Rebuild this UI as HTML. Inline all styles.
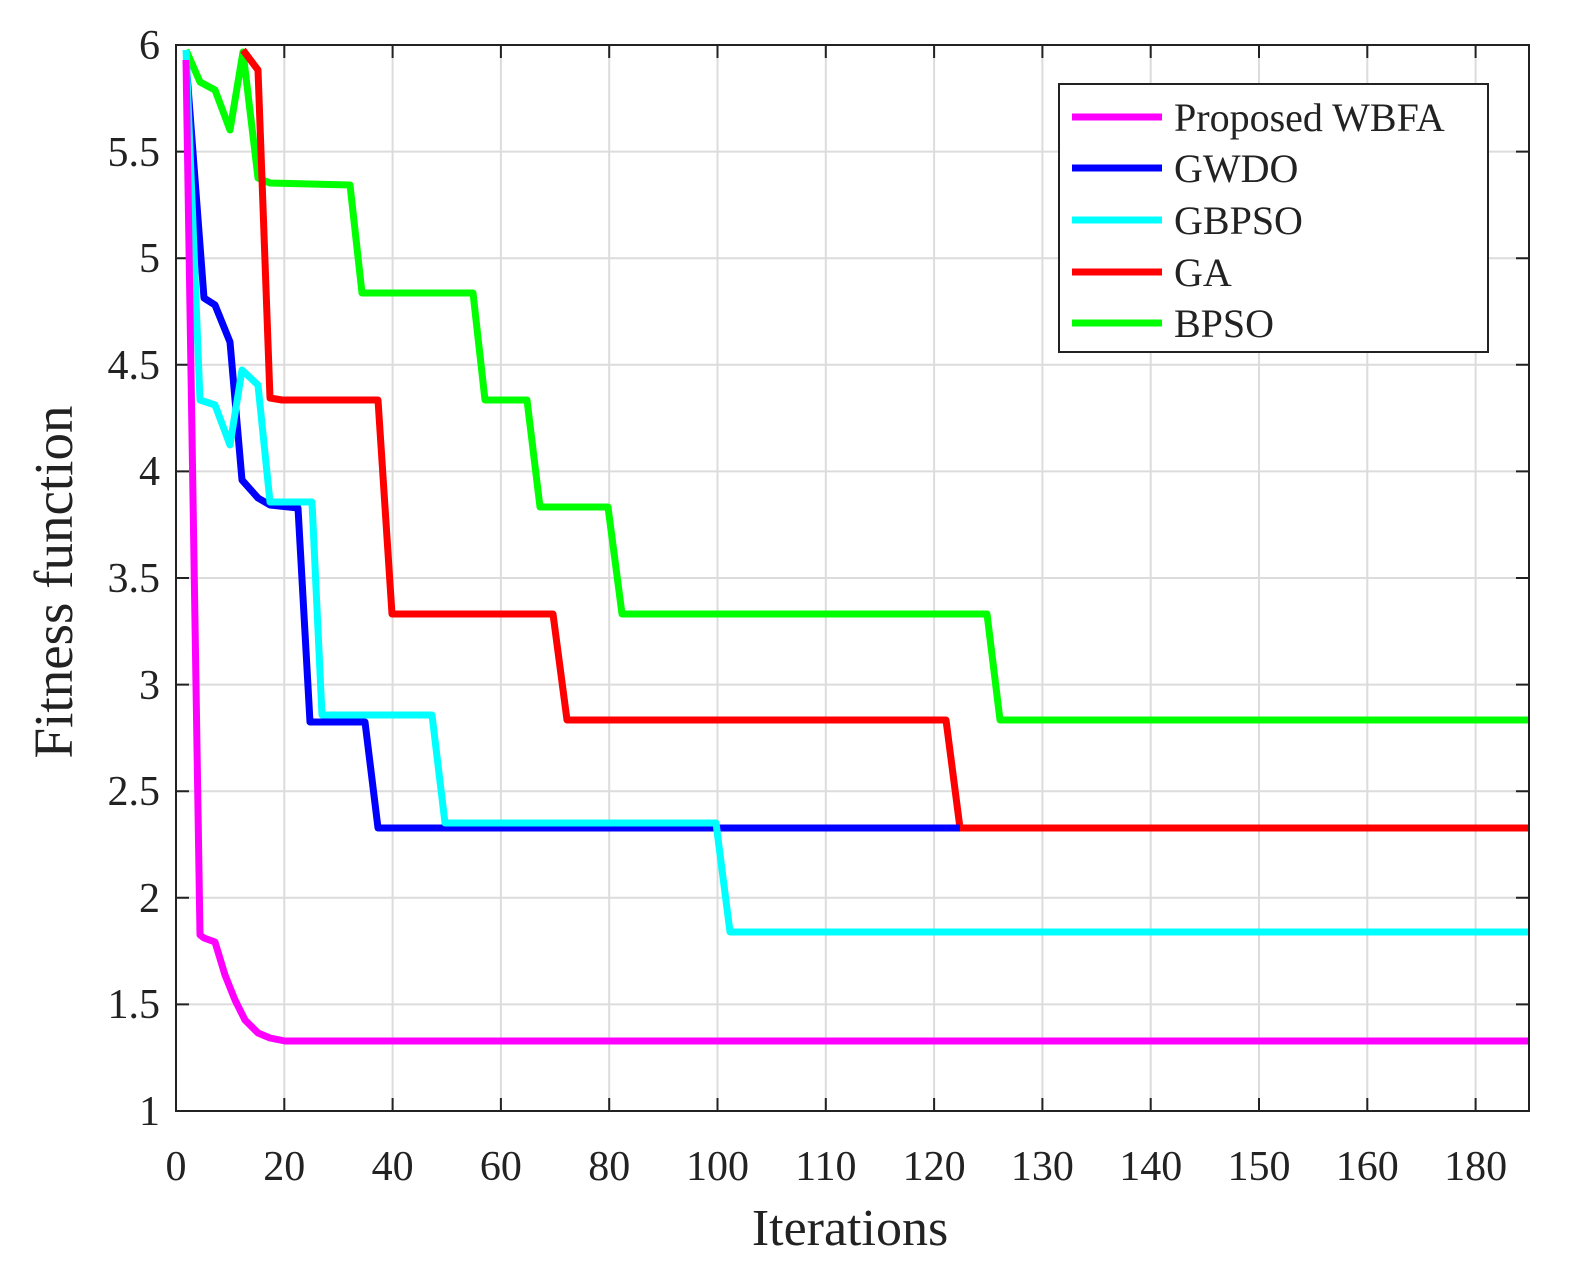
<!DOCTYPE html>
<html><head><style>body{margin:0;background:#fff}svg text{font-family:"Liberation Serif",serif;fill:#222}</style></head><body>
<svg width="1571" height="1277" viewBox="0 0 1571 1277" xmlns="http://www.w3.org/2000/svg">
<rect width="1571" height="1277" fill="#fff"/>
<g stroke="#dcdcdc" stroke-width="2">
<line x1="284.3" x2="284.3" y1="45" y2="1111"/><line x1="392.6" x2="392.6" y1="45" y2="1111"/><line x1="500.9" x2="500.9" y1="45" y2="1111"/><line x1="609.2" x2="609.2" y1="45" y2="1111"/><line x1="717.5" x2="717.5" y1="45" y2="1111"/><line x1="825.8" x2="825.8" y1="45" y2="1111"/><line x1="934.1" x2="934.1" y1="45" y2="1111"/><line x1="1042.4" x2="1042.4" y1="45" y2="1111"/><line x1="1150.7" x2="1150.7" y1="45" y2="1111"/><line x1="1259" x2="1259" y1="45" y2="1111"/><line x1="1367.3" x2="1367.3" y1="45" y2="1111"/><line x1="1475.6" x2="1475.6" y1="45" y2="1111"/>
<line x1="176" x2="1529" y1="151.6" y2="151.6"/><line x1="176" x2="1529" y1="258.2" y2="258.2"/><line x1="176" x2="1529" y1="364.8" y2="364.8"/><line x1="176" x2="1529" y1="471.4" y2="471.4"/><line x1="176" x2="1529" y1="578" y2="578"/><line x1="176" x2="1529" y1="684.6" y2="684.6"/><line x1="176" x2="1529" y1="791.2" y2="791.2"/><line x1="176" x2="1529" y1="897.8" y2="897.8"/><line x1="176" x2="1529" y1="1004.4" y2="1004.4"/>
</g>
<g stroke="#222" stroke-width="2">
<path d="M284.3 1111v-13M392.6 1111v-13M500.9 1111v-13M609.2 1111v-13M717.5 1111v-13M825.8 1111v-13M934.1 1111v-13M1042.4 1111v-13M1150.7 1111v-13M1259 1111v-13M1367.3 1111v-13M1475.6 1111v-13"/>
<path d="M284.3 45v13M392.6 45v13M500.9 45v13M609.2 45v13M717.5 45v13M825.8 45v13M934.1 45v13M1042.4 45v13M1150.7 45v13M1259 45v13M1367.3 45v13M1475.6 45v13"/>
<path d="M176 151.6h13M176 258.2h13M176 364.8h13M176 471.4h13M176 578h13M176 684.6h13M176 791.2h13M176 897.8h13M176 1004.4h13"/>
<path d="M1529 151.6h-13M1529 258.2h-13M1529 364.8h-13M1529 471.4h-13M1529 578h-13M1529 684.6h-13M1529 791.2h-13M1529 897.8h-13M1529 1004.4h-13"/>
</g>
<g font-size="42" text-anchor="middle">
<text x="176" y="1180">0</text><text x="284.3" y="1180">20</text><text x="392.6" y="1180">40</text><text x="500.9" y="1180">60</text><text x="609.2" y="1180">80</text><text x="717.5" y="1180">100</text><text x="825.8" y="1180">110</text><text x="934.1" y="1180">120</text><text x="1042.4" y="1180">130</text><text x="1150.7" y="1180">140</text><text x="1259" y="1180">150</text><text x="1367.3" y="1180">160</text><text x="1475.6" y="1180">180</text>
</g>
<g font-size="42" text-anchor="end">
<text x="160" y="59">6</text><text x="160" y="166">5.5</text><text x="160" y="272">5</text><text x="160" y="379">4.5</text><text x="160" y="485">4</text><text x="160" y="592">3.5</text><text x="160" y="699">3</text><text x="160" y="805">2.5</text><text x="160" y="912">2</text><text x="160" y="1018">1.5</text><text x="160" y="1125">1</text>
</g>
<g fill="none" stroke-width="7" stroke-linejoin="round">
<polyline stroke="#00ff00" points="186,50 200,82 215,90 230,130 243,52 258,178 270,183 350,185 362,293 473,293 485,400 527,400 540,507 608,507 622,614 987,614 1000,720 1529,720"/>
<polyline stroke="#ff0000" points="243,50 258,70 270,398 282,400 378,400 392,614 553,614 567,720 946,720 960,828 1529,828"/>
<polyline stroke="#0000ff" points="186,60 204,298 215,305 230,342 242,480 258,498 270,505 298,508 310,722 365,722 378,828 960,828"/>
<polyline stroke="#00ffff" points="186,50 200,400 215,405 230,445 242,370 258,385 270,502 312,502 322,715 432,715 445,823 716,823 730,932 1529,932"/>
<polyline stroke="#ff00ff" points="186,60 200,935 204,938 215,942 225,975 235,1000 245,1020 258,1033 270,1038 285,1041 1529,1041"/>
</g>
<rect x="176" y="45" width="1353" height="1066" fill="none" stroke="#222" stroke-width="2"/>
<rect x="1059" y="84" width="429" height="268" fill="#fff" stroke="#222" stroke-width="2"/>
<g stroke-width="7">
<line x1="1072" x2="1162" y1="117" y2="117" stroke="#ff00ff"/>
<line x1="1072" x2="1162" y1="168" y2="168" stroke="#0000ff"/>
<line x1="1072" x2="1162" y1="220" y2="220" stroke="#00ffff"/>
<line x1="1072" x2="1162" y1="272" y2="272" stroke="#ff0000"/>
<line x1="1072" x2="1162" y1="323" y2="323" stroke="#00ff00"/>
</g>
<g font-size="40">
<text x="1174" y="131">Proposed WBFA</text>
<text x="1174" y="182">GWDO</text>
<text x="1174" y="234">GBPSO</text>
<text x="1174" y="286">GA</text>
<text x="1174" y="337">BPSO</text>
</g>
<text x="850" y="1245" font-size="52" text-anchor="middle">Iterations</text>
<text transform="translate(72,582) rotate(-90)" font-size="55" text-anchor="middle">Fitness function</text>
</svg>
</body></html>
